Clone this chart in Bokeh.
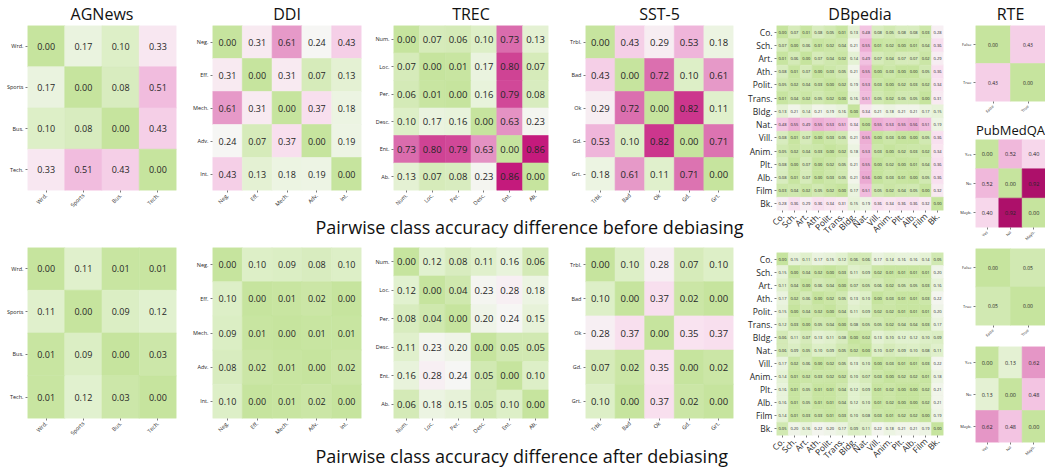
import math
from bokeh.plotting import figure
from bokeh.layouts import row, column
from bokeh.models import ColumnDataSource, LinearColorMapper, Label, FactorRange
from bokeh.transform import transform
from bokeh.core.properties import value
from bokeh.embed import file_html
from bokeh.resources import INLINE

# ---------------- data ----------------
agnews_labels = ["Wrd.", "Sports", "Bus.", "Tech."]
agnews_before = [[0.00, 0.17, 0.10, 0.33],
                 [0.17, 0.00, 0.08, 0.51],
                 [0.10, 0.08, 0.00, 0.43],
                 [0.33, 0.51, 0.43, 0.00]]
agnews_after = [[0.00, 0.11, 0.01, 0.01],
                [0.11, 0.00, 0.09, 0.12],
                [0.01, 0.09, 0.00, 0.03],
                [0.01, 0.12, 0.03, 0.00]]

ddi_labels = ["Neg.", "Eff.", "Mech.", "Adv.", "Int."]
ddi_before = [[0.00, 0.31, 0.61, 0.24, 0.43],
              [0.31, 0.00, 0.31, 0.07, 0.13],
              [0.61, 0.31, 0.00, 0.37, 0.18],
              [0.24, 0.07, 0.37, 0.00, 0.19],
              [0.43, 0.13, 0.18, 0.19, 0.00]]
ddi_after = [[0.00, 0.10, 0.09, 0.08, 0.10],
             [0.10, 0.00, 0.01, 0.02, 0.00],
             [0.09, 0.01, 0.00, 0.01, 0.01],
             [0.08, 0.02, 0.01, 0.00, 0.02],
             [0.10, 0.00, 0.01, 0.02, 0.00]]

trec_labels = ["Num.", "Loc.", "Per.", "Desc.", "Ent.", "Ab."]
trec_before = [[0.00, 0.07, 0.06, 0.10, 0.73, 0.13],
               [0.07, 0.00, 0.01, 0.17, 0.80, 0.07],
               [0.06, 0.01, 0.00, 0.16, 0.79, 0.08],
               [0.10, 0.17, 0.16, 0.00, 0.63, 0.23],
               [0.73, 0.80, 0.79, 0.63, 0.00, 0.86],
               [0.13, 0.07, 0.08, 0.23, 0.86, 0.00]]
trec_after = [[0.00, 0.12, 0.08, 0.11, 0.16, 0.06],
              [0.12, 0.00, 0.04, 0.23, 0.28, 0.18],
              [0.08, 0.04, 0.00, 0.20, 0.24, 0.15],
              [0.11, 0.23, 0.20, 0.00, 0.05, 0.05],
              [0.16, 0.28, 0.24, 0.05, 0.00, 0.10],
              [0.06, 0.18, 0.15, 0.05, 0.10, 0.00]]

sst_labels = ["Trbl.", "Bad", "Ok", "Gd.", "Grt."]
sst_before = [[0.00, 0.43, 0.29, 0.53, 0.18],
              [0.43, 0.00, 0.72, 0.10, 0.61],
              [0.29, 0.72, 0.00, 0.82, 0.11],
              [0.53, 0.10, 0.82, 0.00, 0.71],
              [0.18, 0.61, 0.11, 0.71, 0.00]]
sst_after = [[0.00, 0.10, 0.28, 0.07, 0.10],
             [0.10, 0.00, 0.37, 0.02, 0.00],
             [0.28, 0.37, 0.00, 0.35, 0.37],
             [0.07, 0.02, 0.35, 0.00, 0.02],
             [0.10, 0.00, 0.37, 0.02, 0.00]]

dbp_labels = ["Co.", "Sch.", "Art.", "Ath.", "Polit.", "Trans.", "Bldg.",
              "Nat.", "Vill.", "Anim.", "Plt.", "Alb.", "Film", "Bk."]
dbp_before = [
    [0.00, 0.07, 0.01, 0.08, 0.05, 0.01, 0.13, 0.48, 0.08, 0.05, 0.08, 0.08, 0.03, 0.28],
    [0.07, 0.00, 0.06, 0.01, 0.02, 0.04, 0.21, 0.55, 0.01, 0.02, 0.00, 0.01, 0.04, 0.36],
    [0.01, 0.06, 0.00, 0.07, 0.04, 0.02, 0.14, 0.49, 0.07, 0.04, 0.07, 0.07, 0.02, 0.29],
    [0.08, 0.01, 0.07, 0.00, 0.03, 0.05, 0.21, 0.55, 0.00, 0.03, 0.00, 0.00, 0.05, 0.36],
    [0.05, 0.02, 0.04, 0.03, 0.00, 0.02, 0.19, 0.53, 0.03, 0.00, 0.02, 0.03, 0.02, 0.34],
    [0.01, 0.04, 0.02, 0.05, 0.02, 0.00, 0.16, 0.51, 0.05, 0.02, 0.05, 0.05, 0.00, 0.31],
    [0.13, 0.21, 0.14, 0.21, 0.19, 0.16, 0.00, 0.34, 0.21, 0.18, 0.21, 0.21, 0.17, 0.15],
    [0.48, 0.55, 0.49, 0.55, 0.53, 0.51, 0.34, 0.00, 0.55, 0.53, 0.55, 0.56, 0.51, 0.19],
    [0.08, 0.01, 0.07, 0.00, 0.03, 0.05, 0.21, 0.55, 0.00, 0.03, 0.00, 0.00, 0.05, 0.36],
    [0.05, 0.02, 0.04, 0.03, 0.00, 0.02, 0.18, 0.53, 0.03, 0.00, 0.02, 0.03, 0.02, 0.34],
    [0.08, 0.00, 0.07, 0.00, 0.02, 0.05, 0.21, 0.55, 0.00, 0.02, 0.00, 0.01, 0.04, 0.36],
    [0.08, 0.01, 0.07, 0.00, 0.03, 0.05, 0.21, 0.56, 0.00, 0.03, 0.01, 0.00, 0.05, 0.36],
    [0.03, 0.04, 0.02, 0.05, 0.02, 0.00, 0.17, 0.51, 0.05, 0.02, 0.04, 0.05, 0.00, 0.32],
    [0.28, 0.36, 0.29, 0.36, 0.34, 0.31, 0.15, 0.19, 0.36, 0.34, 0.36, 0.36, 0.32, 0.00]]
dbp_after = [
    [0.00, 0.15, 0.11, 0.17, 0.15, 0.12, 0.06, 0.06, 0.17, 0.14, 0.16, 0.16, 0.14, 0.05],
    [0.15, 0.00, 0.04, 0.02, 0.00, 0.03, 0.11, 0.09, 0.02, 0.01, 0.01, 0.01, 0.01, 0.20],
    [0.11, 0.04, 0.00, 0.06, 0.04, 0.00, 0.07, 0.05, 0.06, 0.02, 0.05, 0.05, 0.03, 0.16],
    [0.17, 0.02, 0.06, 0.00, 0.02, 0.05, 0.13, 0.10, 0.00, 0.03, 0.01, 0.01, 0.03, 0.22],
    [0.15, 0.00, 0.04, 0.02, 0.00, 0.04, 0.11, 0.09, 0.02, 0.02, 0.01, 0.01, 0.01, 0.20],
    [0.12, 0.03, 0.00, 0.05, 0.04, 0.00, 0.08, 0.05, 0.05, 0.02, 0.04, 0.04, 0.03, 0.17],
    [0.06, 0.11, 0.07, 0.13, 0.11, 0.08, 0.00, 0.02, 0.13, 0.10, 0.12, 0.12, 0.10, 0.09],
    [0.06, 0.09, 0.05, 0.10, 0.09, 0.05, 0.02, 0.00, 0.10, 0.07, 0.09, 0.10, 0.08, 0.11],
    [0.17, 0.02, 0.06, 0.00, 0.02, 0.05, 0.13, 0.10, 0.00, 0.03, 0.01, 0.01, 0.03, 0.22],
    [0.14, 0.01, 0.02, 0.03, 0.02, 0.02, 0.10, 0.07, 0.03, 0.00, 0.02, 0.02, 0.01, 0.18],
    [0.16, 0.01, 0.05, 0.01, 0.01, 0.04, 0.12, 0.09, 0.01, 0.02, 0.00, 0.00, 0.02, 0.21],
    [0.16, 0.01, 0.05, 0.01, 0.01, 0.04, 0.12, 0.10, 0.01, 0.02, 0.00, 0.00, 0.02, 0.21],
    [0.14, 0.01, 0.03, 0.03, 0.01, 0.03, 0.10, 0.08, 0.03, 0.01, 0.02, 0.02, 0.00, 0.19],
    [0.05, 0.20, 0.16, 0.22, 0.20, 0.17, 0.09, 0.11, 0.22, 0.18, 0.21, 0.21, 0.19, 0.00]]

rte_labels = ["False", "True"]
rte_before = [[0.00, 0.43],
              [0.43, 0.00]]
rte_after = [[0.00, 0.05],
             [0.05, 0.00]]

pqa_labels = ["Yes", "No", "Mayb."]
pqa_before = [[0.00, 0.52, 0.40],
              [0.52, 0.00, 0.92],
              [0.40, 0.92, 0.00]]
pqa_after = [[0.00, 0.13, 0.62],
             [0.13, 0.00, 0.48],
             [0.62, 0.48, 0.00]]

caption_before = "Pairwise class accuracy difference before debiasing"
caption_after = "Pairwise class accuracy difference after debiasing"

# ---------------- colour map ----------------
CMAP_STOPS = [(0.00, "#c6e49e"), (0.12, "#e2f1d0"), (0.24, "#f6f6f4"),
              (0.35, "#f9e3f0"), (0.50, "#f2bfe0"), (0.62, "#e596c6"),
              (0.75, "#d864a8"), (0.86, "#c51b7d"), (1.00, "#8e0152")]


def _hex(c):
    return [int(c[i:i + 2], 16) for i in (1, 3, 5)]


def build_palette(n=256):
    out = []
    for i in range(n):
        v = i / (n - 1)
        for (v0, c0), (v1, c1) in zip(CMAP_STOPS, CMAP_STOPS[1:]):
            if v0 <= v <= v1:
                t = (v - v0) / (v1 - v0)
                a, b = _hex(c0), _hex(c1)
                rgb = [round(a[k] + (b[k] - a[k]) * t) for k in range(3)]
                out.append("#%02x%02x%02x" % tuple(rgb))
                break
    return out


PALETTE = build_palette()
FONT = "Open Sans"


def heatmap(labels, mat, title, width, height, bl, br, bt, bb,
            cell_font, tick_font, title_font="16px"):
    mapper = LinearColorMapper(palette=PALETTE, low=0.0, high=1.0)
    xs, ys, vals, txt = [], [], [], []
    for i, r in enumerate(labels):
        for j, c in enumerate(labels):
            xs.append(c)
            ys.append(r)
            vals.append(mat[i][j])
            txt.append(f"{mat[i][j]:.2f}")
    src = ColumnDataSource(dict(x=xs, y=ys, v=vals, t=txt))
    p = figure(width=width, height=height,
               x_range=FactorRange(*labels), y_range=FactorRange(*labels[::-1]),
               output_backend="svg", toolbar_location=None,
               min_border_left=bl, min_border_right=br,
               min_border_top=bt, min_border_bottom=bb)
    p.rect("x", "y", 1, 1, source=src, fill_color=transform("v", mapper),
           line_color=transform("v", mapper), line_width=0.6)
    p.text("x", "y", text="t", source=src, text_align="center",
           text_baseline="middle", text_font_size=cell_font,
           text_color="#262626", text_font=value(FONT))
    p.xgrid.grid_line_color = None
    p.ygrid.grid_line_color = None
    p.outline_line_color = None
    for ax in (p.xaxis[0], p.yaxis[0]):
        ax.axis_line_color = None
        ax.major_tick_in = 0
        ax.major_tick_out = 2
        ax.major_tick_line_color = "#444444"
        ax.major_tick_line_width = 0.7
        ax.major_label_standoff = 2
        ax.major_label_text_font_size = tick_font
        ax.major_label_text_font = FONT
        ax.major_label_text_color = "#262626"
    p.xaxis.major_label_orientation = math.pi / 4
    if title:
        p.title.text = title
        p.title.align = "center"
        p.title.text_font_size = title_font
        p.title.text_font = FONT
        p.title.text_font_style = "normal"
        p.title.text_color = "#111111"
        p.title.standoff = 1
    return p


def caption_fig(text, width, height, x0):
    p = figure(width=width, height=height, x_range=(0, 1), y_range=(0, 1),
               x_axis_type=None, y_axis_type=None, output_backend="svg",
               toolbar_location=None, min_border=0)
    p.xgrid.grid_line_color = None
    p.ygrid.grid_line_color = None
    p.outline_line_color = None
    p.add_layout(Label(x=x0, y=height / 2, x_units="screen", y_units="screen",
                       text=text, text_align="left", text_baseline="middle",
                       text_font_size="18px", text_font=FONT, text_color="#111111"))
    return p


# ---------------- left block ----------------
top_row = row(
    heatmap(agnews_labels, agnews_before, "AGNews", 186, 215, 27, 10, 23, 25, "9px", "5.5px"),
    heatmap(ddi_labels, ddi_before, "DDI", 184, 215, 26, 9, 23, 25, "9px", "5.5px"),
    heatmap(trec_labels, trec_before, "TREC", 190, 215, 23, 12, 23, 25, "9.5px", "5.5px"),
    heatmap(sst_labels, sst_before, "SST-5", 185, 215, 25, 12, 23, 25, "9.5px", "5.5px"),
)
bot_row = row(
    heatmap(agnews_labels, agnews_after, None, 186, 205, 27, 10, 9, 25, "9px", "5.5px"),
    heatmap(ddi_labels, ddi_after, None, 184, 205, 26, 9, 9, 25, "9px", "5.5px"),
    heatmap(trec_labels, trec_after, None, 190, 205, 23, 12, 9, 25, "9.5px", "5.5px"),
    heatmap(sst_labels, sst_after, None, 185, 205, 25, 12, 9, 25, "9.5px", "5.5px"),
)
left_block = column(top_row, caption_fig(caption_before, 745, 23, 315),
                    bot_row, caption_fig(caption_after, 745, 24, 315))

# ---------------- DBpedia ----------------
dbp_col = column(
    heatmap(dbp_labels, dbp_before, "DBpedia", 210, 242, 27, 12, 25, 30, "4px", "8.5px"),
    heatmap(dbp_labels, dbp_after, None, 210, 225, 27, 12, 10, 26, "4px", "8.5px"),
)

# ---------------- RTE / PubMedQA ----------------
small_col = column(
    heatmap(rte_labels, rte_before, "RTE", 90, 118, 20, 0, 23, 14, "5px", "4px"),
    heatmap(pqa_labels, pqa_before, "PubMedQA", 90, 128, 15, 0, 20, 14, "5.5px", "4px",
            title_font="13px"),
    heatmap(rte_labels, rte_after, None, 90, 96, 16, 0, 2, 14, "5px", "4px"),
    heatmap(pqa_labels, pqa_after, None, 90, 125, 15, 0, 4, 25, "5.5px", "4px"),
)

layout = row(left_block, dbp_col, small_col)

open("out.html", "w").write(file_html(layout, INLINE))
